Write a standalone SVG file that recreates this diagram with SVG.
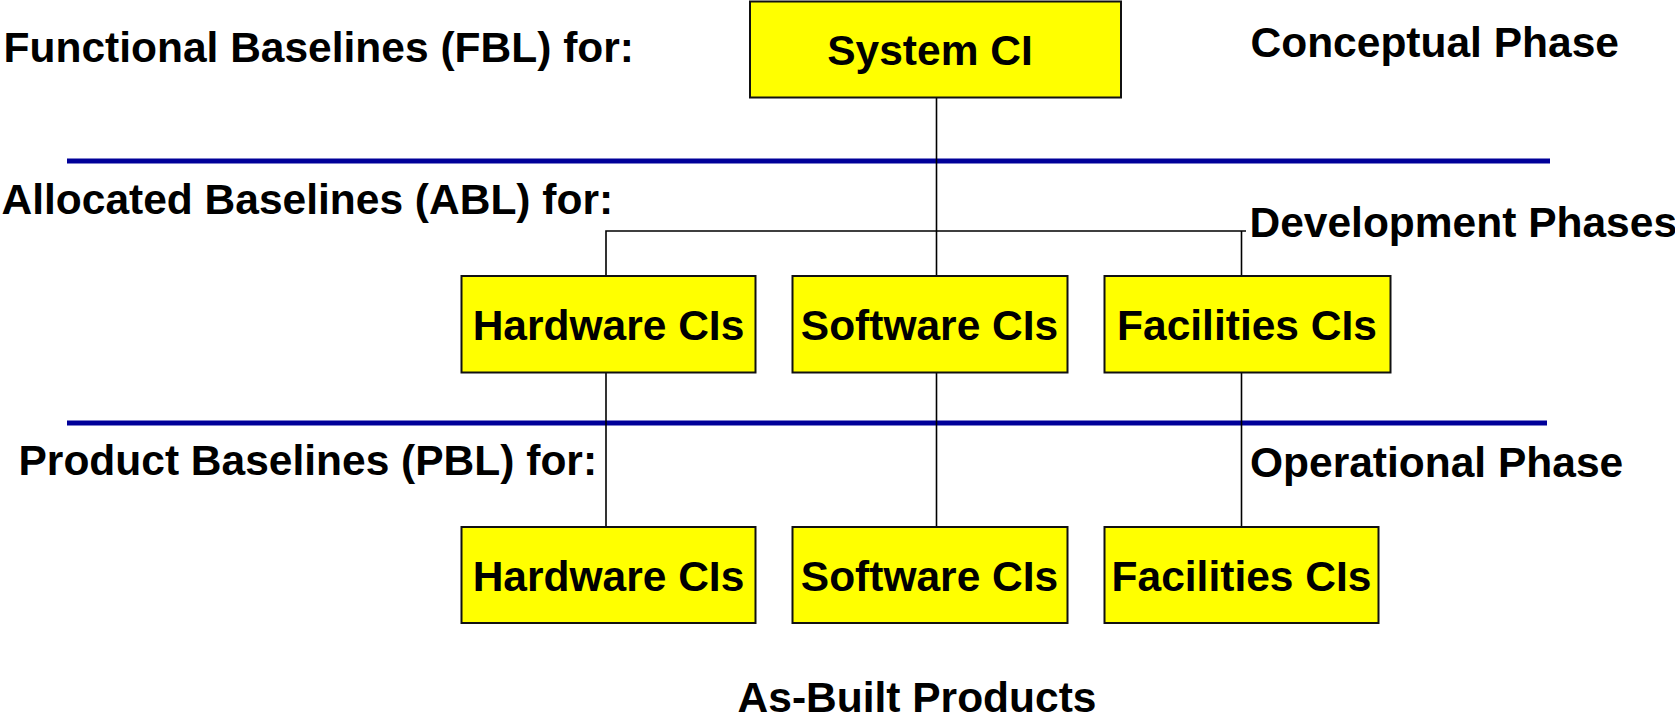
<svg xmlns="http://www.w3.org/2000/svg" width="1675" height="718" viewBox="0 0 1675 718">
  <style>
    text { font-family: "Liberation Sans", Arial, sans-serif; font-weight: bold; font-size: 42.5px; fill: #000; }
    .mid { text-anchor: middle; }
    .box { fill: #FFFF00; stroke: #111; stroke-width: 2; }
    .link { stroke: #000; stroke-width: 1.6; fill: none; }
    .band { stroke: #000099; stroke-width: 5; }
  </style>

  <rect x="0" y="0" width="1675" height="718" fill="#fff"/>

  <!-- phase separators -->
  <g id="separators">
    <line class="band" x1="67" y1="161" x2="1550" y2="161"/>
    <line class="band" x1="67" y1="423" x2="1547" y2="423"/>
  </g>

  <!-- baseline and phase labels -->
  <g id="labels">
    <text x="3.5" y="62">Functional Baselines (FBL) for:</text>
    <text x="1.5" y="213.5">Allocated Baselines (ABL) for:</text>
    <text x="18.5" y="474.5">Product Baselines (PBL) for:</text>
    <text x="1250.5" y="57">Conceptual Phase</text>
    <text x="1249.5" y="237">Development Phases</text>
    <text x="1250" y="477">Operational Phase</text>
    <text class="mid" x="917" y="712">As-Built Products</text>
  </g>

  <!-- tree connectors -->
  <g id="connectors">
    <line class="link" x1="936.5" y1="97" x2="936.5" y2="276"/>
    <polyline class="link" points="606,276 606,231 1246,231"/>
    <line class="link" x1="1241.5" y1="231" x2="1241.5" y2="276"/>
    <line class="link" x1="606" y1="372" x2="606" y2="527"/>
    <line class="link" x1="936.5" y1="372" x2="936.5" y2="527"/>
    <line class="link" x1="1241.5" y1="372" x2="1241.5" y2="527"/>
  </g>

  <g id="system-ci">
    <rect class="box" x="750" y="1.5" width="371" height="96"/>
    <text class="mid" x="930" y="64.5">System CI</text>
  </g>

  <g id="abl-hardware">
    <rect class="box" x="461.5" y="276" width="294" height="96.5"/>
    <text class="mid" x="608.5" y="339.5">Hardware CIs</text>
  </g>
  <g id="abl-software">
    <rect class="box" x="792.5" y="276" width="275" height="96.5"/>
    <text class="mid" x="929.5" y="339.5">Software CIs</text>
  </g>
  <g id="abl-facilities">
    <rect class="box" x="1104.5" y="276" width="286" height="96.5"/>
    <text class="mid" x="1247" y="339.5">Facilities CIs</text>
  </g>

  <g id="pbl-hardware">
    <rect class="box" x="461.5" y="527" width="294" height="96"/>
    <text class="mid" x="608.5" y="590.5">Hardware CIs</text>
  </g>
  <g id="pbl-software">
    <rect class="box" x="792.5" y="527" width="275" height="96"/>
    <text class="mid" x="929.5" y="590.5">Software CIs</text>
  </g>
  <g id="pbl-facilities">
    <rect class="box" x="1104.5" y="527" width="274" height="96"/>
    <text class="mid" x="1241.5" y="590.5">Facilities CIs</text>
  </g>
</svg>
